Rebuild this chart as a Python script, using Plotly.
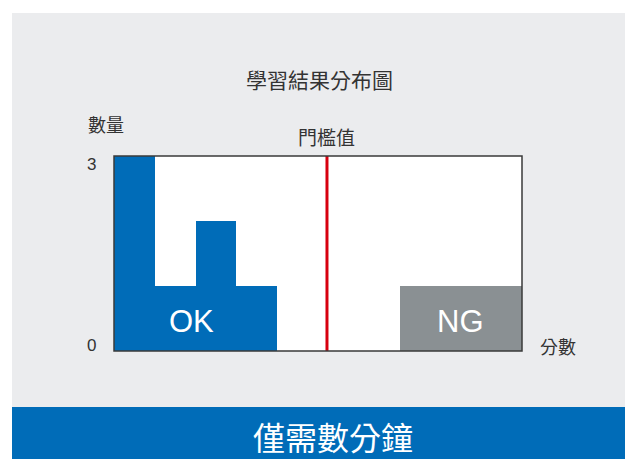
import plotly.graph_objects as go

# ---- data ----
bin_centers = [0.5, 1.5, 2.5, 3.5, 4.5, 5.5, 6.5, 7.5, 8.5, 9.5]
ok_counts = [3, 1, 2, 1, 0, 0, 0, 0, 0, 0]
ng_counts = [0, 0, 0, 0, 0, 0, 0, 1, 1, 1]
threshold = 5.22
y_ticks = [0, 3]
y_tick_labels = ["0", "3"]
title_text = "學習結果分布圖"
y_title = "數量"
x_title = "分數"
threshold_label = "門檻值"
ok_label, ok_label_x = "OK", 1.9
ng_label, ng_label_x = "NG", 8.5
label_y = 0.46
footer_text = "僅需數分鐘"

BLUE = "#006cb8"
GRAY = "#8a9093"
RED = "#d7000f"
PANEL = "#ebecee"
TEXT = "#333333"
LATIN = "Liberation Sans, Arial, Noto Sans CJK TC, sans-serif"
CJK = "Noto Sans CJK TC, Noto Sans CJK JP, sans-serif"

W, H = 628, 459
L, R, T, B = 114, 106, 156, 108
PW, PH = W - L - R, H - T - B


def px(xp):
    return (xp - L) / PW


def py(yp):
    return (H - B - yp) / PH


fig = go.Figure()
fig.add_trace(go.Bar(x=bin_centers, y=ok_counts, width=1, marker=dict(color=BLUE, line=dict(width=0)),
                     hoverinfo="skip", showlegend=False))
fig.add_trace(go.Bar(x=bin_centers, y=ng_counts, width=1, marker=dict(color=GRAY, line=dict(width=0)),
                     hoverinfo="skip", showlegend=False))

shapes = [
    # gray panel
    dict(type="rect", xref="paper", yref="paper", x0=px(12), x1=px(625), y0=py(407), y1=py(13),
         fillcolor=PANEL, line=dict(width=0), layer="below"),
    # blue footer band
    dict(type="rect", xref="paper", yref="paper", x0=px(12), x1=px(625), y0=py(459), y1=py(407),
         fillcolor=BLUE, line=dict(width=0), layer="below"),
    # white plot area
    dict(type="rect", xref="paper", yref="paper", x0=0, x1=1, y0=0, y1=1,
         fillcolor="white", line=dict(width=0), layer="below"),
    # threshold line
    dict(type="line", xref="x", yref="paper", x0=threshold, x1=threshold, y0=0, y1=1,
         line=dict(color=RED, width=3), layer="above"),
    # plot border
    dict(type="rect", xref="paper", yref="paper", x0=0, x1=1, y0=0, y1=1,
         fillcolor="rgba(0,0,0,0)", line=dict(color="#3a3a3a", width=1.5), layer="above"),
]

annotations = [
    dict(text=title_text, xref="paper", yref="paper", x=px(319), y=py(79), showarrow=False,
         xanchor="center", yanchor="middle", font=dict(family=CJK, size=21, color=TEXT)),
    dict(text=y_title, xref="paper", yref="paper", x=px(106), y=py(124.5), showarrow=False,
         xanchor="center", yanchor="middle", font=dict(family=CJK, size=18, color=TEXT)),
    dict(text=threshold_label, xref="x", yref="paper", x=threshold, y=py(137), showarrow=False,
         xanchor="center", yanchor="middle", font=dict(family=CJK, size=19, color=TEXT)),
    dict(text=x_title, xref="paper", yref="paper", x=px(558), y=py(346), showarrow=False,
         xanchor="center", yanchor="middle", font=dict(family=CJK, size=18, color=TEXT)),
    dict(text=footer_text, xref="paper", yref="paper", x=px(333), y=py(436), showarrow=False,
         xanchor="center", yanchor="middle", font=dict(family=CJK, size=32, color="white")),
    dict(text=ok_label, xref="x", yref="y", x=ok_label_x, y=label_y, showarrow=False,
         xanchor="center", yanchor="middle", font=dict(family=LATIN, size=31, color="white")),
    dict(text=ng_label, xref="x", yref="y", x=ng_label_x, y=label_y, showarrow=False,
         xanchor="center", yanchor="middle", font=dict(family=LATIN, size=31, color="white")),
]
for v, t in zip(y_ticks, y_tick_labels):
    annotations.append(dict(text=t, xref="paper", yref="y", x=px(98), y=v, showarrow=False,
                            xanchor="right", yanchor="middle",
                            yshift=-8 if v == max(y_ticks) else 5.5,
                            font=dict(family=LATIN, size=17, color=TEXT)))

fig.update_layout(
    width=W, height=H,
    margin=dict(l=L, r=R, t=T, b=B, pad=0),
    paper_bgcolor="white", plot_bgcolor="white",
    barmode="overlay", bargap=0,
    shapes=shapes, annotations=annotations,
    xaxis=dict(range=[0, 10], showticklabels=False, showgrid=False, zeroline=False, ticks="",
               fixedrange=True),
    yaxis=dict(range=[0, 3], showticklabels=False, showgrid=False, zeroline=False, ticks="",
               fixedrange=True),
    showlegend=False,
)

fig.write_html("out.html", config={"displayModeBar": False},
               post_script="document.body.style.margin='0';document.body.style.overflow='hidden';")
